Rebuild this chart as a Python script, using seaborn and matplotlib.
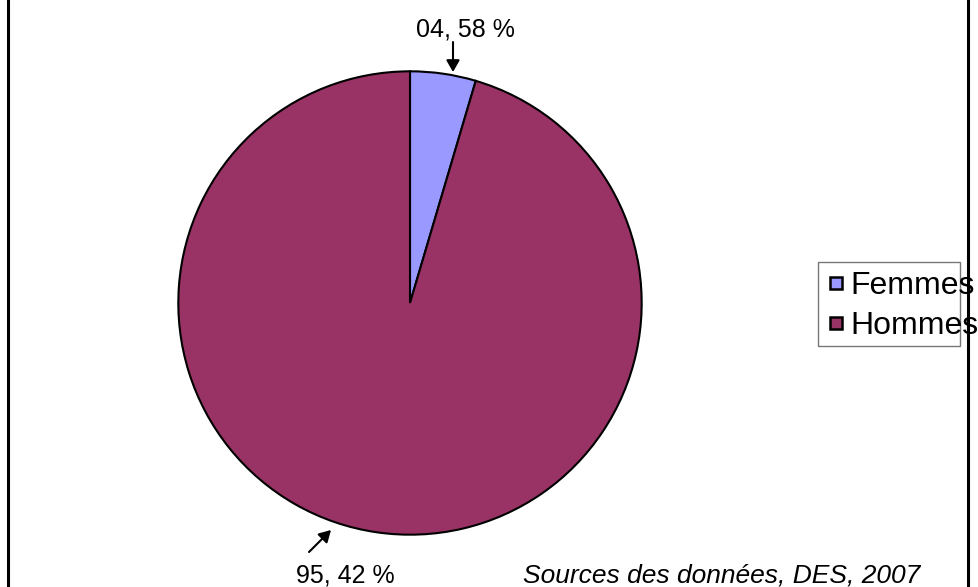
import matplotlib
matplotlib.use("Agg")
import matplotlib.pyplot as plt
import seaborn as sns
from matplotlib.lines import Line2D
from matplotlib.patches import Rectangle, FancyArrowPatch

# Data
categories = ["Femmes", "Hommes"]
values = [4.58, 95.42]
value_labels = ["04, 58 %", "95, 42 %"]
source_text = "Sources des données, DES, 2007"
colors = ["#9999FF", "#993366"]

sns.set_theme(style="white")
plt.rcParams["font.family"] = ["Liberation Sans", "DejaVu Sans"]
plt.rcParams["text.color"] = "black"

W, H = 979, 587
fig = plt.figure(figsize=(W / 100, H / 100), dpi=100)
fig.patch.set_facecolor("white")

def fx(x):
    return x / W

def fy(y):
    return (H - y) / H

cx, cy, r = 410, 303, 234
ax = fig.add_axes([fx(cx - r), fy(cy + r), 2 * r / W, 2 * r / H])
wedges, _ = ax.pie(values, colors=colors, startangle=90, counterclock=False,
                   radius=1.0, wedgeprops=dict(edgecolor="black", linewidth=1.5))
ax.set_xlim(-1.01, 1.01)
ax.set_ylim(-1.01, 1.01)
ax.set_axis_off()

# Labels with arrows
fig.text(fx(465), fy(30), value_labels[0], ha="center", va="center",
         fontsize=18, color="black")
fig.add_artist(FancyArrowPatch(
    (fx(453), fy(42)), (fx(453), fy(72)), transform=fig.transFigure,
    arrowstyle="-|>,head_length=7,head_width=4", color="black", lw=1.5,
    shrinkA=0, shrinkB=0))
fig.text(fx(345), fy(575), value_labels[1], ha="center", va="center",
         fontsize=18, color="black")
fig.add_artist(FancyArrowPatch(
    (fx(309), fy(552)), (fx(331), fy(530)), transform=fig.transFigure,
    arrowstyle="-|>,head_length=7,head_width=4", color="black", lw=1.5,
    shrinkA=0, shrinkB=0))

fig.text(fx(722), fy(575), source_text, ha="center", va="center",
         fontsize=19, style="italic", color="black")

# Legend
handles = [Line2D([0], [0], marker="s", linestyle="none", markersize=9,
                  markerfacecolor=c, markeredgecolor="black", markeredgewidth=1.8)
           for c in colors]
fig.legend(handles, categories, loc="center left",
           bbox_to_anchor=(fx(828), fy(306)), frameon=False, fontsize=23,
           handlelength=0.5, handletextpad=0.2, labelspacing=0.3,
           borderpad=0, borderaxespad=0, labelcolor="black")
fig.add_artist(Rectangle((fx(818), fy(346)), (960 - 818) / W, (346 - 262) / H,
                         transform=fig.transFigure, fill=False,
                         edgecolor="#777777", linewidth=1.0))

# Frame lines
fig.add_artist(Line2D([fx(8), fx(8)], [0, 1], transform=fig.transFigure,
                      color="black", linewidth=2.2))
fig.add_artist(Line2D([fx(968), fx(968)], [0, 1], transform=fig.transFigure,
                      color="black", linewidth=2.2))

fig.savefig("out.png", dpi=100, facecolor="white")
